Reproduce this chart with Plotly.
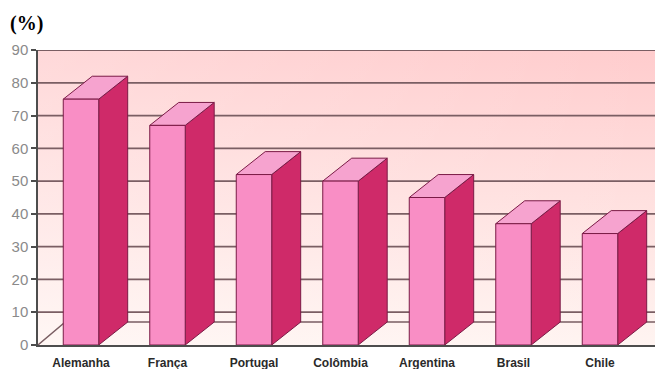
import plotly.graph_objects as go

# ---- data ----
countries = ["Alemanha", "França", "Portugal", "Colômbia", "Argentina", "Brasil", "Chile"]
values = [75, 67, 52, 50, 45, 37, 34]
y_ticks = [0, 10, 20, 30, 40, 50, 60, 70, 80, 90]
y_unit_label = "(%)"

# ---- geometry / style (layout units) ----
XMIN, XMAX = -0.497, 6.636
YMIN, YMAX = 0, 90
HW = 0.205          # half width of bar front face (category units)
DX = 0.335          # depth offset in x (category units)
DY = 7.0            # depth offset in y (value units)
FLOOR_DX = 0.315

FRONT = "#F98EC5"
SIDE = "#CF2A69"
TOP = "#F6A3CF"
EDGE = "#7A1B46"
GRID = "#7a5e63"
AXIS = "#4d4d4d"

fig = go.Figure()

# background wall with gradient
fig.add_trace(go.Scatter(
    x=[XMIN, XMAX, XMAX, XMIN, XMIN], y=[YMIN, YMIN, YMAX, YMAX, YMIN],
    mode="lines", line=dict(width=0), fill="toself",
    fillgradient=dict(type="vertical",
                      colorscale=[[0, "rgb(255,244,241)"], [1, "rgb(255,204,205)"]]),
    hoverinfo="skip", showlegend=False))
fig.add_trace(go.Scatter(
    x=[XMIN, XMAX, XMAX, XMIN, XMIN], y=[YMIN, YMIN, YMAX, YMAX, YMIN],
    mode="lines", line=dict(width=0), fill="toself",
    fillgradient=dict(type="horizontal",
                      colorscale=[[0, "rgba(255,255,255,0.25)"], [1, "rgba(255,255,255,0)"]]),
    hoverinfo="skip", showlegend=False))

# gridlines
gx, gy = [], []
for t in y_ticks[1:]:
    gx += [XMIN, XMAX, None]
    gy += [t, t, None]
fig.add_trace(go.Scatter(x=gx, y=gy, mode="lines",
                         line=dict(color=GRID, width=1.8),
                         hoverinfo="skip", showlegend=False))

# floor
fig.add_trace(go.Scatter(
    x=[XMIN, XMIN + FLOOR_DX, XMAX], y=[0, DY, DY], mode="lines",
    line=dict(color=GRID, width=1.4), hoverinfo="skip", showlegend=False))

# bars
for i, v in enumerate(values):
    c = i
    xl, xr = c - HW, c + HW
    # side
    fig.add_trace(go.Scatter(
        x=[xr, xr + DX, xr + DX, xr, xr], y=[0, DY, v + DY, v, 0],
        mode="lines", fill="toself", fillcolor=SIDE,
        line=dict(color=EDGE, width=1), hoverinfo="skip", showlegend=False))
    # top
    fig.add_trace(go.Scatter(
        x=[xl, xr, xr + DX, xl + DX, xl], y=[v, v, v + DY, v + DY, v],
        mode="lines", fill="toself", fillcolor=TOP,
        line=dict(color=EDGE, width=1), hoverinfo="skip", showlegend=False))
    # front
    fig.add_trace(go.Scatter(
        x=[xl, xr, xr, xl, xl], y=[0, 0, v, v, 0],
        mode="lines", fill="toself", fillcolor=FRONT,
        line=dict(color=EDGE, width=1), hoverinfo="skip", showlegend=False,
        name=countries[i]))

fig.update_layout(
    width=655, height=369,
    margin=dict(l=38, r=0, t=50, b=24),
    paper_bgcolor="white", plot_bgcolor="white",
    showlegend=False,
    xaxis=dict(range=[XMIN, XMAX], showgrid=False, zeroline=False,
               tickmode="array", tickvals=list(range(len(countries))),
               ticktext=countries, ticks="", showline=True,
               linecolor=AXIS, linewidth=1.5, ticklabelstandoff=6,
               tickfont=dict(family="Liberation Sans", size=12, color="#2a2a2a",
                             weight="bold")),
    yaxis=dict(range=[YMIN, YMAX], showgrid=False, zeroline=False,
               tickmode="array", tickvals=y_ticks,
               ticktext=[str(t) for t in y_ticks],
               ticks="outside", ticklen=5, tickcolor=AXIS, tickwidth=1.5,
               showline=True, linecolor=AXIS, linewidth=1.5,
               tickfont=dict(family="Liberation Sans", size=15, color="#8a8a8a")),
    annotations=[dict(text=y_unit_label, xref="paper", yref="paper",
                      x=-30 / 617, y=(345 - 23) / 295, xanchor="left", yanchor="middle",
                      showarrow=False,
                      font=dict(family="Liberation Serif", size=20, color="black",
                                weight="bold"))],
)

fig.write_html("out.html")
